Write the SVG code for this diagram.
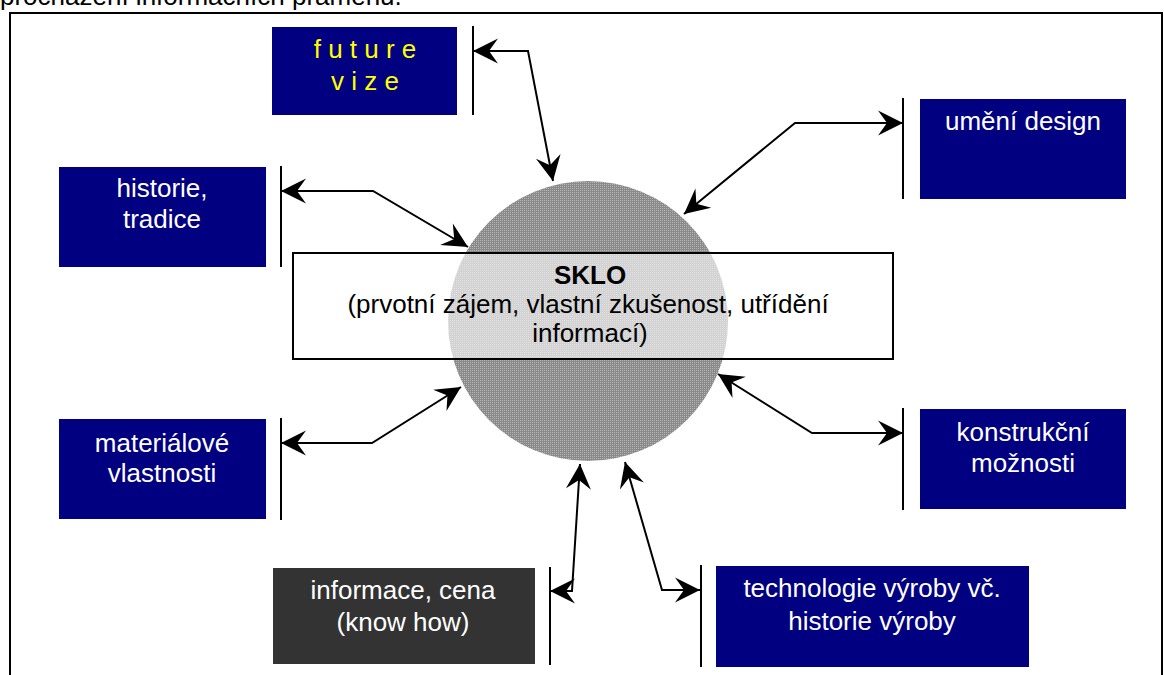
<svg xmlns="http://www.w3.org/2000/svg" width="1164" height="675" viewBox="0 0 1164 675">
  <style>
    .t { font-family: "Liberation Sans", Arial, sans-serif; font-size: 26px; fill: #ffffff; text-anchor: middle; }
    .blue { fill: #000080; }
    .dark { fill: #333333; }
    .bar { stroke: #000; stroke-width: 2; fill: none; }
    .con { stroke: #000; stroke-width: 2; fill: none; marker-start: url(#ah); marker-end: url(#ah); }
  </style>
  <defs>
    <marker id="ah" viewBox="-26 -13 28 26" refX="0" refY="0" markerWidth="28" markerHeight="26" markerUnits="userSpaceOnUse" orient="auto-start-reverse">
      <path d="M0,0 L-25,-12.5 L-16,0 L-25,12.5 Z" fill="#000"/>
    </marker>
    <pattern id="dither" width="2" height="2" patternUnits="userSpaceOnUse">
      <rect width="2" height="2" fill="#8a8a8a"/>
      <rect width="1" height="1" fill="#b4b4b4"/>
    </pattern>
  </defs>
  <rect width="1164" height="675" fill="#ffffff"/>
  <text x="0" y="5" style="font-family: 'Liberation Sans', Arial, sans-serif; font-size: 26px; fill: #000;">procházení informačních pramenů.</text>
  <rect x="10" y="13" width="1152" height="700" fill="none" stroke="#000" stroke-width="2"/>

  <g id="sklo">
    <circle cx="588" cy="321" r="140" fill="url(#dither)"/>
    <rect x="293" y="253" width="600" height="106" fill="#ffffff" fill-opacity="0.62" stroke="#000" stroke-width="2"/>
    <text class="t" x="590" y="284" style="fill:#000;font-weight:bold;">SKLO</text>
    <text class="t" x="588" y="313" style="fill:#000;">(prvotní zájem, vlastní zkušenost, utřídění</text>
    <text class="t" x="590" y="342" style="fill:#000;">informací)</text>
  </g>

  <g id="future">
    <rect class="blue" x="272" y="27" width="185" height="88"/>
    <text class="t" x="365" y="58" style="fill:#ffff00;">f u t u r e</text>
    <text class="t" x="365" y="90" style="fill:#ffff00;">v i z e</text>
    <line class="bar" x1="473" y1="26" x2="473" y2="115"/>
  </g>

  <g id="umeni">
    <rect class="blue" x="920" y="99" width="206" height="100"/>
    <text class="t" x="1023" y="130">umění design</text>
    <line class="bar" x1="903" y1="98" x2="903" y2="199"/>
  </g>

  <g id="historie">
    <rect class="blue" x="59" y="167" width="207" height="100"/>
    <text class="t" x="162" y="197">historie,</text>
    <text class="t" x="162" y="228">tradice</text>
    <line class="bar" x1="281" y1="166" x2="281" y2="267"/>
  </g>

  <g id="materialove">
    <rect class="blue" x="59" y="419" width="207" height="100"/>
    <text class="t" x="162" y="452">materiálové</text>
    <text class="t" x="162" y="482">vlastnosti</text>
    <line class="bar" x1="281" y1="418" x2="281" y2="520"/>
  </g>

  <g id="konstrukcni">
    <rect class="blue" x="920" y="409" width="206" height="100"/>
    <text class="t" x="1023" y="441">konstrukční</text>
    <text class="t" x="1023" y="472">možnosti</text>
    <line class="bar" x1="903" y1="408" x2="903" y2="510"/>
  </g>

  <g id="informace">
    <rect class="dark" x="273" y="568" width="262" height="96"/>
    <text class="t" x="403" y="599">informace, cena</text>
    <text class="t" x="403" y="631">(know how)</text>
    <line class="bar" x1="550" y1="567" x2="550" y2="665"/>
  </g>

  <g id="technologie">
    <rect class="blue" x="716" y="566" width="313" height="101"/>
    <text class="t" x="872" y="597">technologie výroby vč.</text>
    <text class="t" x="872" y="630">historie výroby</text>
    <line class="bar" x1="701" y1="565" x2="701" y2="667"/>
  </g>

  <g id="connectors">
    <polyline class="con" points="473,51 528,51 553,181"/>
    <polyline class="con" points="903,123 795,123 684,214"/>
    <polyline class="con" points="281,191 373,191 468,247"/>
    <polyline class="con" points="281,443 372,443 461,387"/>
    <polyline class="con" points="903,433 812,433 718,374"/>
    <polyline class="con" points="580,464 572,591 550,591"/>
    <polyline class="con" points="625,462 662,590 700,590"/>
  </g>
</svg>
